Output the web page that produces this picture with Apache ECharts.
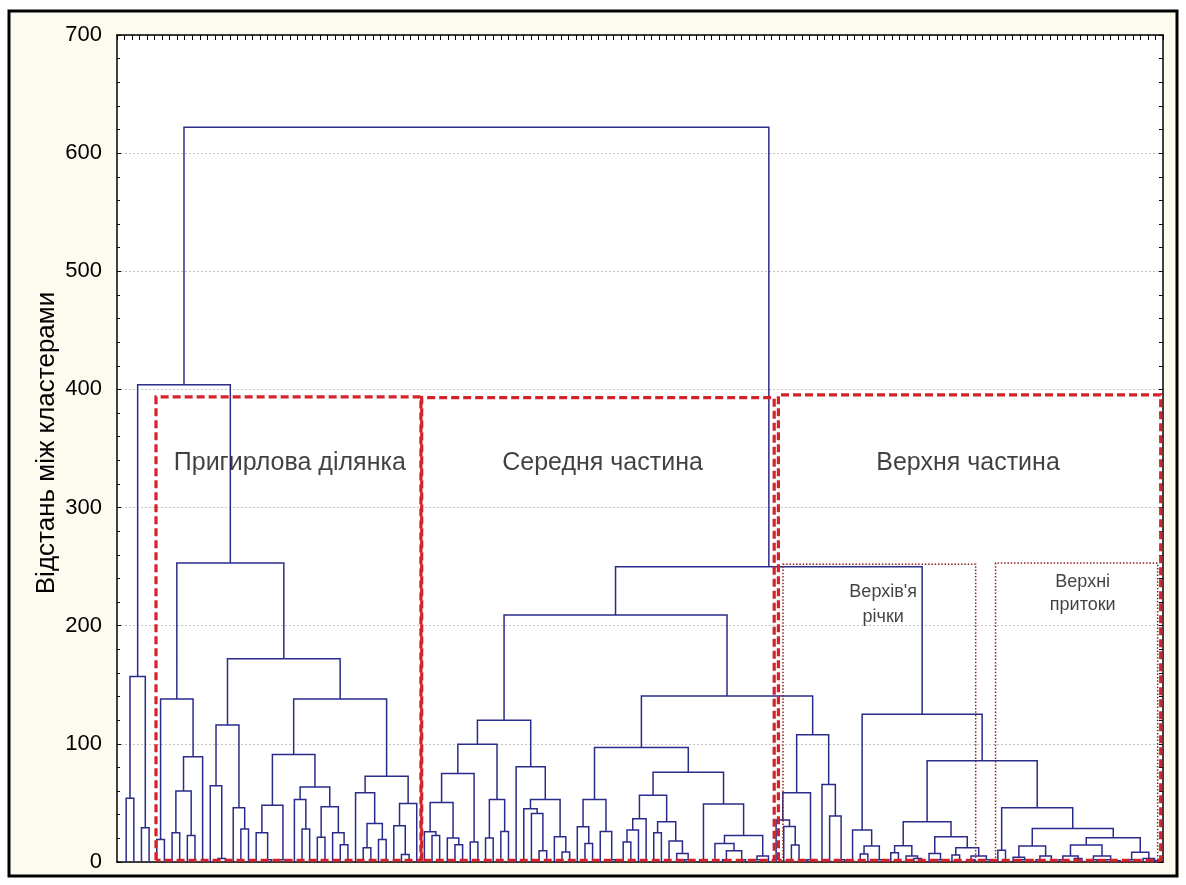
<!DOCTYPE html>
<html><head><meta charset="utf-8">
<script src="https://cdn.jsdelivr.net/npm/echarts@6/dist/echarts.min.js"></script>
<style>html,body{margin:0;padding:0;background:#fff;}#chart{width:1186px;height:885px;}</style>
</head><body><div id="chart"></div>
<script>
// ---- Data: dendrogram nodes as [joinHeight, left, right]; a leaf is 0 ----
const mouthOutliers = [157, [54, 0, 0], [29, 0, 0]];
const mouthCluster = [253,
  [138, [19, 0, 0], [89, [60, [24.7, 0, 0], [22.5, 0, 0]], 0]],
  [172,
    [116, [64.5, 0, [3, 0, 0]], [46, 0, [28, 0, 0]]],
    [138,
      [91, [48, [24.7, 0, [2, 0, 0]], [2, 0, 0]],
           [63.5, [53, 0, [28, 0, 0]], [46.7, [21, 0, 0], [24.7, 0, [14.6, 0, 0]]]]],
      [72.5, [58.6, 0, [32.6, [12, 0, 0], [19, 0, 0]]], [49.6, [30.7, 0, [6.4, 0, 0]], 0]]
    ]
  ]
];
const middleA = [120,
  [99.6, [75, [50.4, [25.7, 0, [22.5, 0, 0]], [20.3, 0, [14.6, 0, 0]]], [17, 0, 0]],
         [53, [20.3, 0, 0], [25.8, 0, 0]]],
  [80.7, 0, [53, [45, 0, [41, 0, [9.6, 0, 0]]], [21.3, 0, [8.5, 0, 0]]]]
];
const middleB = [97,
  [53, [29.8, 0, [15.7, 0, 0]], [25.8, 0, [2, 0, 0]]],
  [76,
    [56.4, [36.6, [27, [17, 0, 0], 0], 0], [34, [24.7, 0, 0], [17.8, 0, [7.3, 0, [2, 0, 0]]]]],
    [49, [2, 0, 0], [22.5, [15.7, 0, [9.6, [2, 0, 0], [2, 0, 0]]], [5, [2, 0, 0], 0]]]
  ]
];
const upperA = [107.7,
  [58.7, [35.6, 0, [30, 0, [14.4, 0, 0]]], [2, 0, 0]],
  [65.7, 0, [39, 0, [2, 0, 0]]]
];
const upperB = [27, 0, [13.5, [6.8, 0, 0], [2, 0, 0]]];
const upperC = [34,
  [13.7, [7.9, 0, 0], [5, 0, [3, 0, 0]]],
  [21.4, [7.3, 0, [2, 0, 0]], [12, [6, 0, 0], [5, [2, 0, 0], [2, 0, 0]]]]
];
const upperD = [46,
  [10, 0, 0],
  [28.4,
    [13.5, [4, 0, [2, 0, 0]], [5, [2, 0, 0], 0]],
    [20.5, [14.4, [5, [2, 0, 0], [3, 0, 0]], [5, [2, 0, 0], [2, 0, [1, 0, 0]]]],
           [8.2, [2, 0, 0], [3, 0, [1, 0, 0]]]]
  ]
];
const topJoins = [622, 404, 250, 209, 140.5, 125, 85.7];
const yTicks = [0, 100, 200, 300, 400, 500, 600, 700];
const regionNames = ['Пригирлова ділянка', 'Середня частина', 'Верхня частина'];
const subRegionNames = ['Верхів\'я\nрічки', 'Верхні\nпритоки'];
const yAxisTitle = 'Відстань між кластерами';

// ---- Build tree ----
const tree = [topJoins[0],
  [topJoins[1], mouthOutliers, mouthCluster],
  [topJoins[2],
    [topJoins[3], middleA, [topJoins[4], middleB, upperA]],
    [topJoins[5], upperB, [topJoins[6], upperC, upperD]]
  ]
];
let leafIdx = 0;
const segs = [];
function layout(n) {
  if (n === 0) { return { x: leafIdx++, h: 0 }; }
  const h = n[0], L = layout(n[1]), R = layout(n[2]);
  segs.push({ coords: [[L.x, L.h], [L.x, h], [R.x, h], [R.x, R.h]] });
  return { x: (L.x + R.x) / 2, h: h };
}
layout(tree);

function box(x0, x1, top, bottom) {
  return { coords: [[x0, bottom], [x0, top], [x1, top], [x1, bottom], [x0, bottom]] };
}
const redBoxes = [box(3.9, 38.55, 393.7, 1.5), box(38.65, 84.75, 393, 1.5), box(85.3, 135.3, 395.4, 1.5)];
const dotBoxes = [box(85.9, 111.1, 252, 0.5), box(113.7, 134.9, 253, 0.5)];

const chart = echarts.init(document.getElementById('chart'));
const FONT = 'Liberation Sans, Arial, sans-serif';
chart.setOption({
  animation: false,
  backgroundColor: '#ffffff',
  graphic: [
    { type: 'rect', z: -10, shape: { x: 9, y: 11, width: 1168, height: 865 },
      style: { fill: '#fdfaf0', stroke: '#000', lineWidth: 3 } },
    { type: 'text', x: 47, y: 443, rotation: Math.PI / 2,
      style: { text: yAxisTitle, font: '26px ' + FONT, fill: '#000', align: 'center', verticalAlign: 'middle' } }
  ],
  grid: { left: 117, right: 23, top: 35, bottom: 23, show: true, backgroundColor: '#fff', borderWidth: 0 },
  xAxis: [
    { type: 'value', position: 'bottom', min: -1.2, max: 135.6,
      axisLine: { onZero: false, lineStyle: { color: '#000', width: 1.5 } },
      axisTick: { show: false }, axisLabel: { show: false }, splitLine: { show: false } },
    { type: 'value', position: 'top', min: 0, max: 139, interval: 1,
      axisLine: { onZero: false, lineStyle: { color: '#000', width: 1.5 } },
      axisTick: { show: true, inside: true, length: 5, lineStyle: { color: '#000' } },
      axisLabel: { show: false }, splitLine: { show: false } }
  ],
  yAxis: [
    { type: 'value', position: 'left', min: 0, max: 700, interval: 100,
      axisLine: { show: true, onZero: false, lineStyle: { color: '#000', width: 1.5 } },
      axisTick: { show: true, inside: true, length: 4, lineStyle: { color: '#000' } },
      minorTick: { show: true, splitNumber: 5, length: 3, lineStyle: { color: '#000' } },
      axisLabel: { fontSize: 22, color: '#000', fontFamily: FONT, margin: 15,
        formatter: v => yTicks.includes(v) ? String(v) : '' },
      splitLine: { show: true, lineStyle: { color: '#c4c4c4', type: [2, 2], width: 1 } } },
    { type: 'value', position: 'right', min: 0, max: 700, interval: 20,
      axisLine: { show: true, onZero: false, lineStyle: { color: '#000', width: 1.5 } },
      axisTick: { show: true, inside: true, length: 4, lineStyle: { color: '#000' } },
      axisLabel: { show: false }, splitLine: { show: false } }
  ],
  series: [
    { type: 'lines', coordinateSystem: 'cartesian2d', polyline: true, silent: true, z: 3,
      lineStyle: { color: '#2a2c8a', width: 1.5, opacity: 1 }, data: segs },
    { type: 'lines', coordinateSystem: 'cartesian2d', polyline: true, silent: true, z: 5,
      lineStyle: { color: '#8e1f22', width: 1.5, type: [1.5, 1.8], opacity: 1 }, data: dotBoxes },
    { type: 'lines', coordinateSystem: 'cartesian2d', polyline: true, silent: true, z: 6,
      lineStyle: { color: '#d4222a', width: 3.2, type: [8, 4], opacity: 1 }, data: redBoxes },
    { type: 'scatter', symbolSize: 0, silent: true, z: 7,
      label: { show: true, position: 'inside', formatter: '{b}', color: '#111', fontFamily: FONT, fontSize: 25 },
      data: [
        { name: regionNames[0], value: [21.4, 337.8] },
        { name: regionNames[1], value: [62.3, 337.8] },
        { name: regionNames[2], value: [110.1, 337.8] },
        { name: subRegionNames[0], value: [99, 217.6], label: { fontSize: 18, lineHeight: 25 } },
        { name: subRegionNames[1], value: [125.1, 227.3], label: { fontSize: 18, lineHeight: 23 } }
      ] }
  ]
});
</script></body></html>
